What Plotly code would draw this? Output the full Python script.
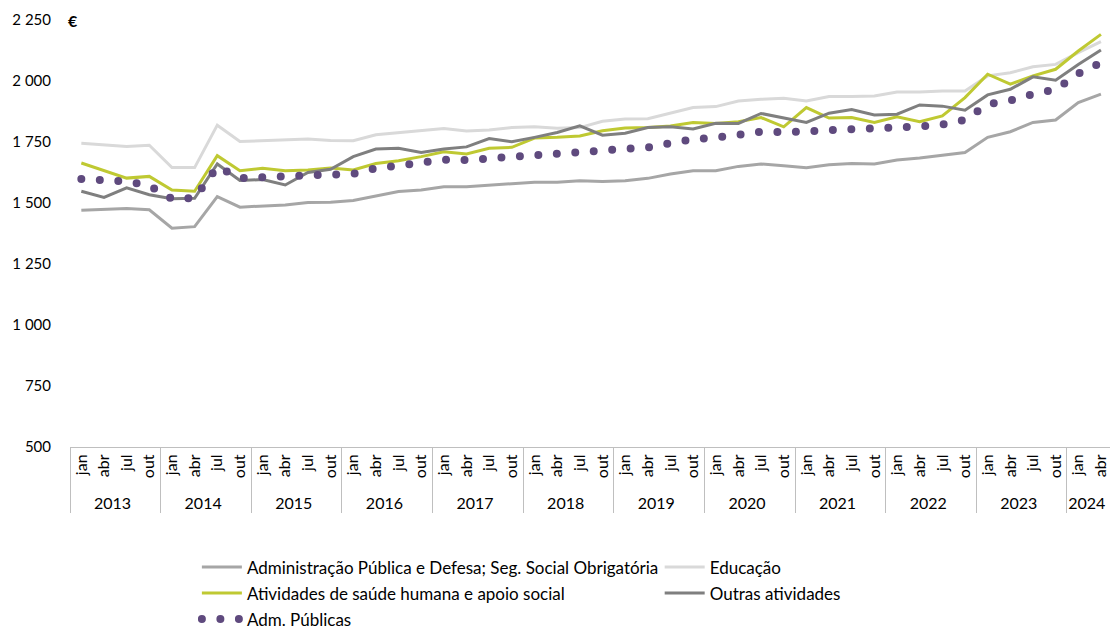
import plotly.graph_objects as go

# Quarter labels and years (jan 2013 .. abr 2024)
years = ["2013", "2014", "2015", "2016", "2017", "2018", "2019", "2020",
         "2021", "2022", "2023", "2024"]
months = ["jan", "abr", "jul", "out"]

x_year = []
x_month = []
for y in years:
    for m in months:
        if y == "2024" and m in ("jul", "out"):
            continue
        x_year.append(y)
        x_month.append(m)

# Average monthly earnings (€)
admin_publica = [1470, 1474, 1477, 1472, 1397, 1403, 1526, 1483,
                 1487, 1492, 1502, 1503, 1510, 1530, 1547, 1553,
                 1567, 1567, 1574, 1578, 1585, 1585, 1591, 1588,
                 1591, 1601, 1619, 1632, 1632, 1650, 1660, 1653,
                 1645, 1657, 1662, 1660, 1676, 1684, 1696, 1707,
                 1769, 1792, 1830, 1840, 1912, 1946]
educacao = [1745, 1737, 1732, 1737, 1645, 1645, 1819, 1752,
            1755, 1758, 1762, 1756, 1755, 1780, 1789, 1796,
            1805, 1795, 1799, 1809, 1812, 1806, 1809, 1835,
            1844, 1845, 1867, 1891, 1895, 1918, 1925, 1929,
            1918, 1936, 1936, 1939, 1955, 1955, 1959, 1959,
            2021, 2034, 2058, 2068, 2116, 2161]
saude = [1664, 1632, 1602, 1609, 1553, 1548, 1694, 1632,
         1642, 1632, 1635, 1643, 1635, 1662, 1673, 1690,
         1710, 1701, 1724, 1728, 1766, 1769, 1775, 1796,
         1807, 1809, 1816, 1830, 1826, 1833, 1850, 1812,
         1891, 1848, 1850, 1830, 1853, 1833, 1857, 1932,
         2028, 1987, 2021, 2048, 2123, 2191]
outras = [1548, 1523, 1562, 1534, 1517, 1519, 1660, 1592,
          1596, 1574, 1625, 1638, 1690, 1721, 1724, 1707,
          1721, 1730, 1764, 1751, 1769, 1789, 1816, 1778,
          1786, 1809, 1812, 1803, 1827, 1826, 1867, 1850,
          1830, 1868, 1883, 1861, 1864, 1902, 1897, 1880,
          1943, 1966, 2017, 2003, 2068, 2127]
adm_publicas = [1598, 1590, 1588, 1571, 1517, 1520, 1648, 1602,
                1607, 1610, 1614, 1616, 1620, 1642, 1652, 1664,
                1677, 1676, 1682, 1690, 1701, 1702, 1706, 1714,
                1723, 1728, 1745, 1762, 1768, 1780, 1792, 1790,
                1794, 1798, 1799, 1798, 1809, 1814, 1822, 1841,
                1905, 1920, 1946, 1965, 2030, 2075]

y_ticks = [500, 750, 1000, 1250, 1500, 1750, 2000, 2250]
y_tick_text = ["500", "750", "1 000", "1 250", "1 500", "1 750", "2 000", "2 250"]

FONT = "Lato"
x_cat = [x_year, x_month]

fig = go.Figure()
# (name, values, colour, legend column)
series = [
    ("Administração Pública e Defesa; Seg. Social Obrigatória", admin_publica, "#A6A6A6", "legend"),
    ("Educação", educacao, "#D9D9D9", "legend2"),
    ("Atividades de saúde humana e apoio social", saude, "#BFC932", "legend"),
    ("Outras atividades", outras, "#7F7F7F", "legend2"),
]
for name, vals, col, leg in series:
    fig.add_trace(go.Scatter(x=x_cat, y=vals, name=name, mode="lines",
                             legend=leg, legendgroup=name,
                             line=dict(color=col, width=3)))

fig.add_trace(go.Scatter(x=x_cat, y=adm_publicas, name="Adm. Públicas", mode="lines",
                         legend="legend", legendgroup="Adm. Públicas",
                         line=dict(color="#5F4A7E", width=8, dash="0px,18.5px")))

# Two legend columns below the axis (vertical position in page coordinates)
legend_common = dict(orientation="v", xanchor="left", yanchor="top",
                     xref="paper", yref="container", y=0.128,
                     itemwidth=40, tracegroupgap=1,
                     bgcolor="rgba(0,0,0,0)", traceorder="grouped",
                     font=dict(family=FONT, size=17, color="#000000"))

fig.update_layout(
    width=1110, height=630,
    margin=dict(l=70, r=0, t=20, b=183),
    paper_bgcolor="white", plot_bgcolor="white",
    font=dict(family=FONT, size=15, color="#000000"),
    showlegend=True,
    legend=dict(x=0.122, **legend_common),
    legend2=dict(x=0.567, **legend_common),
    annotations=[dict(text="<b>€</b>", x=0, xref="paper", xanchor="left", xshift=-4,
                      y=1, yref="paper", yanchor="middle", showarrow=False,
                      font=dict(family=FONT, size=16, color="#000000"))],
)
fig.update_yaxes(range=[500, 2250], tickvals=y_ticks, ticktext=y_tick_text,
                 showgrid=False, zeroline=False, showline=False, ticks="",
                 ticklabelstandoff=18, automargin=False,
                 tickfont=dict(family=FONT, size=15, color="#000000"))
fig.update_xaxes(type="multicategory", range=[-0.5, 45.4], automargin=False,
                 showline=True, linecolor="#BFBFBF", linewidth=1,
                 showdividers=True, dividercolor="#BFBFBF", dividerwidth=1,
                 tickangle=-90, showgrid=False, ticks="",
                 tickfont=dict(family=FONT, size=16, color="#000000"))

post = """
var gd = document.getElementById('{plot_id}');
function roundDots() {
  gd.querySelectorAll('path').forEach(function (p) {
    var d = p.style.strokeDasharray;
    if (d && d.indexOf('0px') === 0) { p.style.strokeLinecap = 'round'; }
  });
}
roundDots();
gd.on('plotly_afterplot', roundDots);
"""
fig.write_html("out.html", post_script=post)
